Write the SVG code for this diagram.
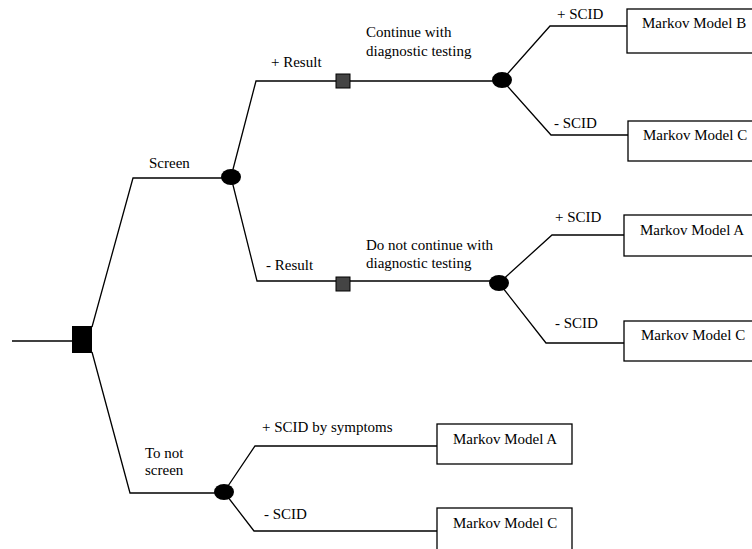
<svg xmlns="http://www.w3.org/2000/svg" width="752" height="549" viewBox="0 0 752 549">
<style>
.ln{fill:none;stroke:#000;stroke-width:1.3}
.bx{fill:#fff;stroke:#000;stroke-width:1.3}
.ch{fill:#000}
.sq{fill:#444;stroke:#000;stroke-width:1}
text{font-family:"Liberation Serif","Times New Roman",serif;font-size:15px;fill:#000}
</style>
<rect width="752" height="549" fill="#fff"/>
<g id="connectors">
<path class="ln" d="M12 341 H72"/>
<path class="ln" d="M92 327 L133 178 H231"/>
<path class="ln" d="M92 352 L130 493 H224"/>
<path class="ln" d="M231 177 L256 81 H502"/>
<path class="ln" d="M231 177 L257 281 H499"/>
<path class="ln" d="M502 80 L550 26 H627"/>
<path class="ln" d="M502 80 L551 135 H628"/>
<path class="ln" d="M499 283 L552 235 H624"/>
<path class="ln" d="M499 283 L546 343 H624"/>
<path class="ln" d="M224 492 L255 446 H437"/>
<path class="ln" d="M224 492 L254 531 H437"/>
</g>
<g id="decision"><rect x="72" y="326" width="20" height="27" fill="#000"/></g>
<g id="chance-screen"><ellipse class="ch" cx="231" cy="177" rx="10" ry="8"/></g>
<g id="chance-noscreen"><ellipse class="ch" cx="224" cy="492" rx="10" ry="8"/></g>
<g id="chance-pos"><ellipse class="ch" cx="502" cy="80" rx="10" ry="8"/></g>
<g id="chance-neg"><ellipse class="ch" cx="499" cy="283" rx="10" ry="8"/></g>
<g id="sq-pos"><rect class="sq" x="336" y="74" width="14" height="14"/></g>
<g id="sq-neg"><rect class="sq" x="336" y="277" width="14" height="14"/></g>
<g id="box-B"><rect class="bx" x="627" y="9" width="140" height="44"/><text x="642" y="28">Markov Model B</text></g>
<g id="box-C1"><rect class="bx" x="628" y="121" width="140" height="40"/><text x="643" y="140">Markov Model C</text></g>
<g id="box-A1"><rect class="bx" x="624" y="215" width="140" height="41"/><text x="640" y="235">Markov Model A</text></g>
<g id="box-C2"><rect class="bx" x="624" y="321" width="140" height="40"/><text x="641" y="340">Markov Model C</text></g>
<g id="box-A2"><rect class="bx" x="437" y="424" width="135" height="40"/><text x="453" y="444">Markov Model A</text></g>
<g id="box-C3"><rect class="bx" x="437" y="508" width="135" height="50"/><text x="453" y="528">Markov Model C</text></g>
<g id="labels">
<text x="149" y="168">Screen</text>
<text x="145" y="458">To not</text>
<text x="145" y="475">screen</text>
<text x="271" y="67">+ Result</text>
<text x="266" y="270">- Result</text>
<text x="366" y="37">Continue with</text>
<text x="366" y="56">diagnostic testing</text>
<text x="366" y="250">Do not continue with</text>
<text x="366" y="268">diagnostic testing</text>
<text x="557" y="19">+ SCID</text>
<text x="554" y="128">- SCID</text>
<text x="555" y="222">+ SCID</text>
<text x="555" y="328">- SCID</text>
<text x="262" y="432">+ SCID by symptoms</text>
<text x="264" y="519">- SCID</text>
</g>
</svg>
